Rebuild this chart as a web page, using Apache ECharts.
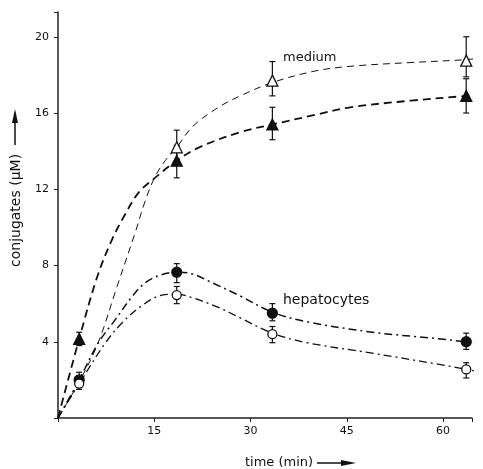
<!DOCTYPE html>
<html>
<head>
<meta charset="utf-8">
<script src="https://cdn.jsdelivr.net/npm/echarts@6/dist/echarts.min.js"></script>
<style>
  html, body { margin: 0; padding: 0; background: #fff; }
  #chart { width: 483px; height: 469px; }
</style>
</head>
<body>
<div id="chart"></div>
<script>
// fitted curves
var tMedOpen = [0, 3.3, 6.2, 9.2, 12, 13.6, 15.1, 16.7, 18.5, 21, 25, 28.4, 33.4, 40, 45.5, 55, 63.6, 66.3];
var vMedOpen = [0, 1.9, 3.9, 6.9, 9.7, 11.4, 12.65, 13.5, 14.2, 15.3, 16.3, 16.9, 17.6, 18.2, 18.45, 18.65, 18.8, 18.9];
var tMedFill = [0, 3.3, 6.1, 8.4, 10.4, 12.5, 15.1, 18.5, 22, 28.4, 33.4, 40, 45.5, 55, 63.6, 66.3];
var vMedFill = [0, 4.15, 7.4, 9.35, 10.65, 11.8, 12.6, 13.5, 14.2, 15.0, 15.4, 15.9, 16.3, 16.65, 16.9, 17.0];
var tHepFill = [0, 3.3, 6.2, 8.9, 11.5, 13.6, 16, 18.5, 21, 24, 28.4, 33.4, 38.8, 49, 59.6, 63.6, 66.3];
var vHepFill = [0, 2.0, 3.9, 5.15, 6.35, 7.1, 7.5, 7.65, 7.55, 7.1, 6.4, 5.55, 5.05, 4.5, 4.15, 4.0, 3.95];
var tHepOpen = [0, 3.3, 7.3, 10, 13.1, 16.2, 18.5, 21, 25, 28.4, 33.4, 38.8, 49, 59.6, 63.6, 66.3];
var vHepOpen = [0, 1.8, 3.9, 5.0, 5.9, 6.45, 6.5, 6.3, 5.8, 5.25, 4.45, 3.95, 3.4, 2.8, 2.55, 2.4];

// measured points with error bars
var tPts = [3.3, 18.5, 33.4, 63.6];
var medOpen = [null, 14.2, 17.7, 18.75];
var medOpenLo = [null, 13.5, 16.9, 17.9];
var medOpenHi = [null, 15.1, 18.7, 20.0];
var medFill = [4.15, 13.5, 15.4, 16.9];
var medFillLo = [3.8, 12.6, 14.6, 16.0];
var medFillHi = [4.5, 14.3, 16.3, 17.8];
var hepFill = [2.0, 7.65, 5.5, 4.0];
var hepFillLo = [1.6, 7.1, 5.1, 3.6];
var hepFillHi = [2.4, 8.1, 6.0, 4.45];
var hepOpen = [1.8, 6.45, 4.4, 2.55];
var hepOpenLo = [1.5, 6.0, 3.95, 2.1];
var hepOpenHi = [2.1, 6.9, 4.8, 2.9];

var xTicks = [0, 15, 30, 45, 60];
var yTicks = [0, 4, 8, 12, 16, 20];

var FONT = 'DejaVu Sans';

function pairs(t, v) {
  return t.map(function (x, i) { return [x, v[i]]; }).filter(function (p) { return p[1] != null; });
}
function bars(lo, hi) {
  var out = [];
  tPts.forEach(function (x, i) { if (lo[i] != null) out.push([x, lo[i], hi[i]]); });
  return out;
}

function errorBar(params, api) {
  var lo = api.coord([api.value(0), api.value(1)]);
  var hi = api.coord([api.value(0), api.value(2)]);
  var w = 3;
  var st = { stroke: '#111', lineWidth: 1.2 };
  return {
    type: 'group',
    children: [
      { type: 'line', shape: { x1: lo[0], y1: lo[1], x2: hi[0], y2: hi[1] }, style: st },
      { type: 'line', shape: { x1: lo[0] - w, y1: lo[1], x2: lo[0] + w, y2: lo[1] }, style: st },
      { type: 'line', shape: { x1: hi[0] - w, y1: hi[1], x2: hi[0] + w, y2: hi[1] }, style: st }
    ]
  };
}

function curve(data, width, dash) {
  return {
    type: 'line', data: data, smooth: 0.35, symbol: 'none', clip: false,
    lineStyle: { color: '#111', width: width, type: dash }, z: 2
  };
}
function pts(data, sym, size, filled) {
  return {
    type: 'scatter', data: data, symbol: sym, symbolSize: size, z: 5,
    itemStyle: { color: filled ? '#111' : '#fff', borderColor: '#111', borderWidth: 1.3, opacity: 1 }
  };
}
function eb(data) {
  return { type: 'custom', data: data, renderItem: errorBar, z: 3, clip: false };
}

var chart = echarts.init(document.getElementById('chart'));
chart.setOption({
  animation: false,
  textStyle: { fontFamily: FONT },
  grid: { left: 58, right: 11, top: 12, bottom: 51 },
  xAxis: {
    type: 'value', min: 0, max: 64.5, interval: 15,
    axisLine: { lineStyle: { color: '#222', width: 1.5 } },
    axisTick: { length: 4, lineStyle: { color: '#222' } },
    splitLine: { show: false },
    axisLabel: {
      color: '#111', fontSize: 11, margin: 8, fontFamily: FONT,
      formatter: function (v) { return xTicks.indexOf(v) > 0 ? String(v) : ''; }
    }
  },
  yAxis: {
    type: 'value', min: 0, max: 21.3, interval: 4,
    axisLine: { show: true, lineStyle: { color: '#222', width: 1.5 } },
    axisTick: { show: true, length: 4, lineStyle: { color: '#222' } },
    splitLine: { show: false },
    axisLabel: {
      color: '#111', fontSize: 11, margin: 9, fontFamily: FONT,
      formatter: function (v) { return yTicks.indexOf(v) > 0 ? String(v) : ''; }
    }
  },
  graphic: [
    { type: 'text', x: 283, y: 58, style: { text: 'medium', fontSize: 13, fill: '#111', fontFamily: FONT, verticalAlign: 'middle' } },
    { type: 'text', x: 283, y: 300, style: { text: 'hepatocytes', fontSize: 14, fill: '#111', fontFamily: FONT, verticalAlign: 'middle' } },
    { type: 'text', x: 245, y: 463, style: { text: 'time (min)', fontSize: 13, fill: '#111', fontFamily: FONT, verticalAlign: 'middle' } },
    { type: 'line', shape: { x1: 317, y1: 463, x2: 345, y2: 463 }, style: { stroke: '#111', lineWidth: 1.5 } },
    { type: 'polygon', shape: { points: [[341, 460], [356, 463], [341, 466]] }, style: { fill: '#111' } },
    { type: 'text', x: 16, y: 267, rotation: Math.PI / 2, style: { text: 'conjugates (μM)', fontSize: 14, fill: '#111', fontFamily: FONT, align: 'left', verticalAlign: 'middle' } },
    { type: 'line', shape: { x1: 15, y1: 145, x2: 15, y2: 120 }, style: { stroke: '#111', lineWidth: 1.5 } },
    { type: 'polygon', shape: { points: [[12, 123], [15, 109], [18, 123]] }, style: { fill: '#111' } }
  ],
  series: [
    curve(pairs(tMedOpen, vMedOpen), 1, [7, 5]),
    curve(pairs(tMedFill, vMedFill), 1.8, [8, 5]),
    curve(pairs(tHepFill, vHepFill), 1.5, [8, 4, 2, 4]),
    curve(pairs(tHepOpen, vHepOpen), 1.3, [8, 4, 2, 4]),
    eb(bars(medOpenLo, medOpenHi)),
    eb(bars(medFillLo, medFillHi)),
    eb(bars(hepFillLo, hepFillHi)),
    eb(bars(hepOpenLo, hepOpenHi)),
    pts(pairs(tPts, medOpen), 'triangle', 11, false),
    pts(pairs(tPts, medFill), 'triangle', 11, true),
    pts(pairs(tPts, hepFill), 'circle', 10, true),
    pts(pairs(tPts, hepOpen), 'circle', 9, false)
  ]
});
</script>
</body>
</html>
